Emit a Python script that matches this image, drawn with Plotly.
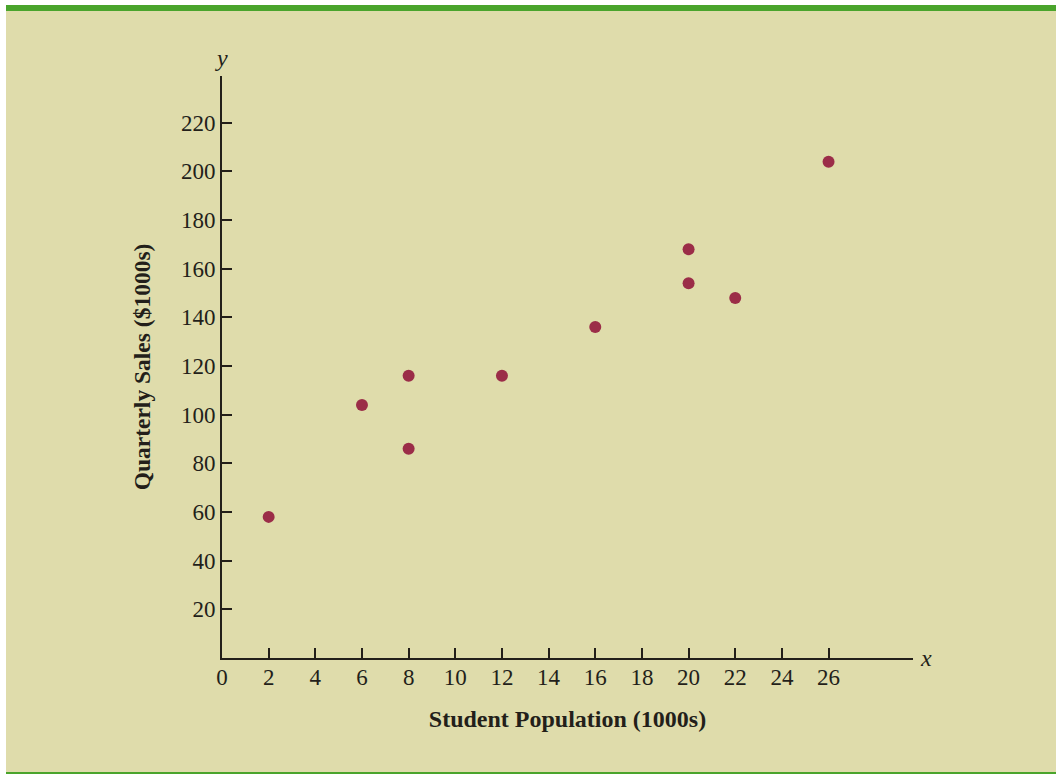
import plotly.graph_objects as go

# Student population (1000s) vs quarterly sales ($1000s)
population = [2, 6, 8, 8, 12, 16, 20, 20, 22, 26]
sales = [58, 104, 86, 116, 116, 136, 154, 168, 148, 204]

x_ticks = [0, 2, 4, 6, 8, 10, 12, 14, 16, 18, 20, 22, 24, 26]
y_ticks = [20, 40, 60, 80, 100, 120, 140, 160, 180, 200, 220]

BG = "#DFDCAB"
GREEN = "#4AA42C"
INK = "#231F1A"
DOT = "#9B2D48"
FONT = "Liberation Serif"

W, H = 1056, 774
L, R, T, B = 222, 143, 76, 116
pw, ph = W - L - R, H - T - B


def px(x):
    return (x - L) / pw


def py(y):
    return (H - B - y) / ph


fig = go.Figure()

fig.add_trace(go.Scatter(
    x=population,
    y=sales,
    mode="markers",
    marker=dict(size=12, color=DOT),
    showlegend=False,
))

# panel background + green rules
fig.add_shape(type="rect", xref="paper", yref="paper",
              x0=px(6), x1=px(W + 2), y0=py(H + 2), y1=py(5),
              fillcolor=BG, line_width=0, layer="below")
fig.add_shape(type="rect", xref="paper", yref="paper",
              x0=px(6), x1=px(W + 2), y0=py(11), y1=py(5),
              fillcolor=GREEN, line_width=0, layer="below")
fig.add_shape(type="rect", xref="paper", yref="paper",
              x0=px(6), x1=px(W + 2), y0=py(H + 2), y1=py(772),
              fillcolor=GREEN, line_width=0, layer="below")

# axis letters
fig.add_annotation(text="<i>y</i>", x=px(221), y=py(58), xref="paper", yref="paper",
                   xanchor="center", yanchor="middle", showarrow=False,
                   font=dict(family=FONT, size=24, color=INK))
fig.add_annotation(text="<i>x</i>", x=px(926), y=py(658), xref="paper", yref="paper",
                   xanchor="center", yanchor="middle", showarrow=False,
                   font=dict(family=FONT, size=24, color=INK))

fig.update_xaxes(
    range=[0, 29.62],
    tickvals=x_ticks,
    ticks="inside", ticklen=10, tickwidth=2, tickcolor=INK,
    showline=True, linewidth=2, linecolor=INK,
    showgrid=False, zeroline=False,
    tickfont=dict(family=FONT, size=23, color=INK),
    ticklabelstandoff=-3,
    title=dict(text="<b>Student Population (1000s)</b>", standoff=22,
               font=dict(family=FONT, size=24, color=INK)),
)
fig.update_yaxes(
    range=[0, 239.2],
    tickvals=y_ticks,
    ticks="inside", ticklen=10, tickwidth=2, tickcolor=INK,
    showline=True, linewidth=2, linecolor=INK,
    showgrid=False, zeroline=False,
    tickfont=dict(family=FONT, size=23, color=INK),
    title=dict(text="<b>Quarterly Sales ($1000s)</b>", standoff=24,
               font=dict(family=FONT, size=23.5, color=INK)),
)

fig.update_layout(
    width=W, height=H,
    margin=dict(l=L, r=R, t=T, b=B),
    paper_bgcolor="white",
    plot_bgcolor="rgba(0,0,0,0)",
)

fig.write_html("out.html", config={"displayModeBar": False},
               post_script="document.body.style.margin='0';")
